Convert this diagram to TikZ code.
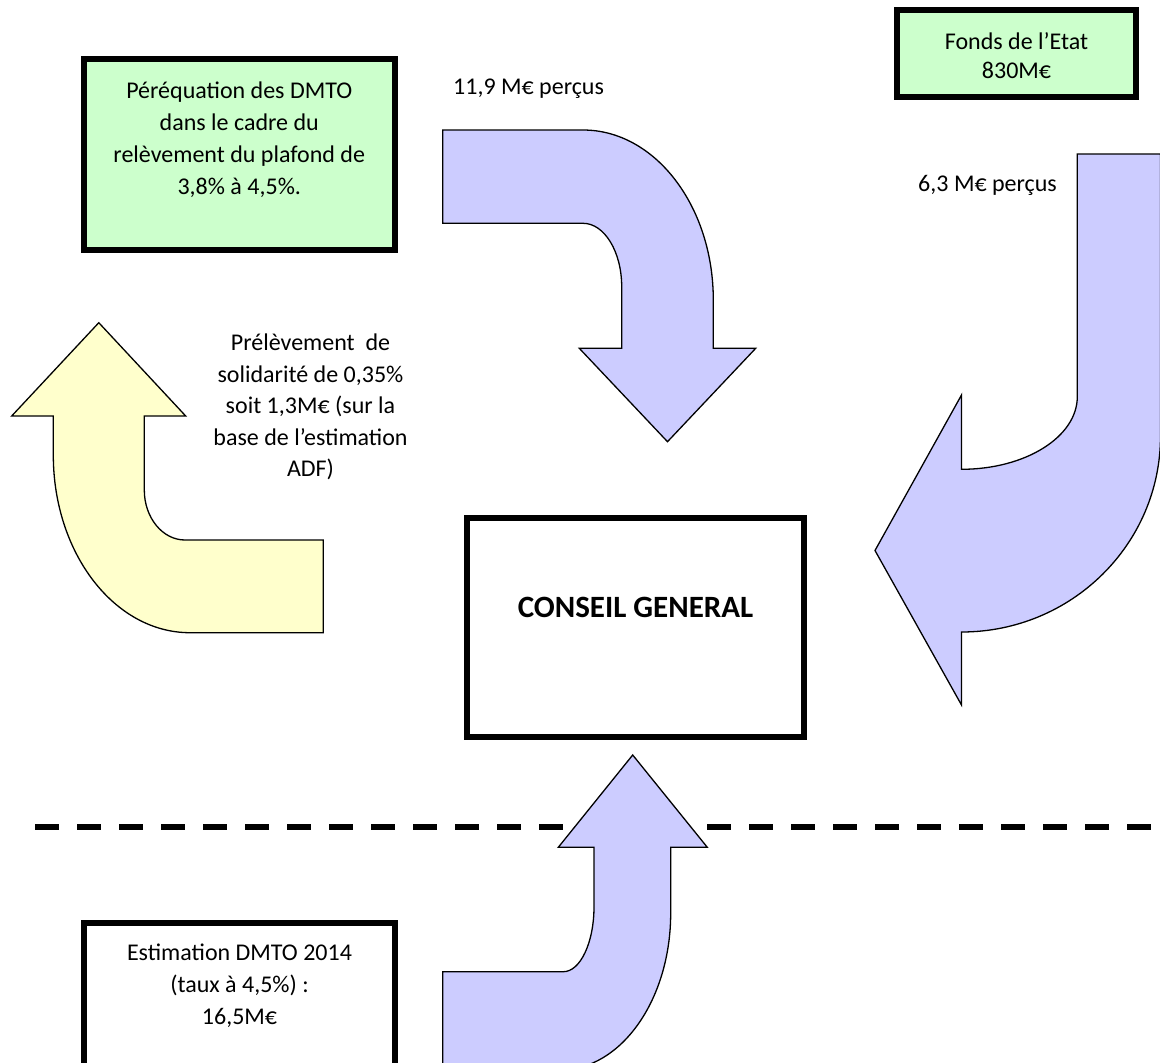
\documentclass[tikz,border=0pt]{standalone}
\usepackage{fontspec}
\setmainfont{Carlito}
\definecolor{boxgreen}{HTML}{CCFFCC}
\definecolor{arrowblue}{HTML}{CCCCFF}
\definecolor{arrowyellow}{HTML}{FFFFCC}
\newcommand\firstline{\rule{0pt}{20pt}}
\begin{document}
\begin{tikzpicture}[x=1pt,y=-1pt,
  box/.style={draw=black, line width=6pt, inner sep=0pt, rectangle},
  greenbox/.style={box, fill=boxgreen},
  whitebox/.style={box, fill=white},
  txt/.style={inner sep=0pt, align=center, font=\fontsize{24}{32}\selectfont},
  blockarrow/.style={draw=black, line width=1.3pt, line join=miter},
  sepline/.style={draw=black, line width=6pt, dash pattern=on 24pt off 18pt}]
\useasboundingbox (0,0) rectangle (1160,1063);
\clip (0,0) rectangle (1160,1063);

% separator
\coordinate (sepL) at (35,826.5);
\coordinate (sepR) at (1170,826.5);
\draw[sepline] (sepL) -- (sepR);

% boxes
\node[greenbox, minimum width=311.5pt, minimum height=191.5pt] (pereq) at (239.25,154.25) {};
\node[greenbox, minimum width=239pt, minimum height=86.7pt] (fonds) at (1016.5,53.65) {};
\node[whitebox, minimum width=336.4pt, minimum height=218.7pt] (cg) at (635.5,627.35) {};
\node[whitebox, minimum width=311.6pt, minimum height=170pt] (estim) at (239.5,1007.5) {};

% texts
\node[txt, anchor=north] (pereqtxt) at (239.25,78.5) {\firstline P\'er\'equation des DMTO\\dans le cadre du\\rel\`evement du plafond de\\3,8\% \`a 4,5\%.};
\node[txt, anchor=north, font=\fontsize{24}{29}\selectfont] (fondstxt) at (1016.5,29.5) {\firstline Fonds de l’Etat\\830M€};
\node[txt, anchor=base, font=\fontsize{31}{36}\selectfont\bfseries] (cgtxt) at (635.5,617) {CONSEIL GENERAL};
\node[txt, anchor=north] (estimtxt) at (239.5,940.5) {\firstline Estimation DMTO 2014\\(taux \`a 4,5\%) :\\16,5M€};
\node[txt, anchor=base west] (lbla) at (453,94) {11,9 M€ per\c{c}us};
\node[txt, anchor=base east] (lblb) at (1057,191) {6,3 M€ per\c{c}us};
\node[txt, anchor=north, font=\fontsize{24}{31.5}\selectfont] (lblc) at (310.5,330.7) {\firstline Pr\'el\`evement\ \ de\\solidarit\'e de 0,35\%\\soit 1,3M€ (sur la\\base de l’estimation\\ADF)};

% arrow from perequation to conseil general
\draw[blockarrow, fill=arrowblue]
  (442.7,130) -- (583,130)
  .. controls (655,130) and (713.3,206.1) .. (713.3,300)
  -- (713.3,348.3) -- (755.7,348.3) -- (667.5,441.7) -- (579.3,348.3)
  -- (621.7,348.3) -- (621.7,286.7)
  .. controls (621.7,251.7) and (604.4,223.3) .. (583,223.3)
  -- (442.7,223.3) -- cycle;

% arrow from fonds de l'Etat
\draw[blockarrow, fill=arrowblue]
  (1077.3,154) -- (1160.5,154) -- (1160.5,436)
  .. controls (1160.5,544.3) and (1071.4,632) .. (961.5,632)
  -- (961.5,705) -- (875,550.5) -- (961.5,395) -- (961.5,469.3)
  .. controls (1025.5,469.3) and (1077.3,436.8) .. (1077.3,396.7)
  -- cycle;

% yellow arrow (prelevement)
\draw[blockarrow, fill=arrowyellow]
  (98.8,322.7) -- (185.7,416) -- (144.3,416) -- (144.3,490)
  .. controls (144.3,517.6) and (162.5,540) .. (185,540)
  -- (323.3,540) -- (323.3,632.7) -- (190,632.7)
  .. controls (114.5,632.7) and (53.3,553.1) .. (53.3,455)
  -- (53.3,416) -- (11.7,416) -- cycle;

% arrow from estimation to conseil general
\draw[blockarrow, fill=arrowblue]
  (632.7,755) -- (707.3,847.3) -- (670.7,847.3) -- (670.7,913)
  .. controls (670.7,999.7) and (621.1,1070) .. (560,1070)
  -- (442.7,1070) -- (442.7,971.7) -- (563.3,971.7)
  .. controls (580.3,971.7) and (594,942.6) .. (594,906.7)
  -- (594,847.3) -- (558.3,847.3) -- cycle;
\end{tikzpicture}
\end{document}
